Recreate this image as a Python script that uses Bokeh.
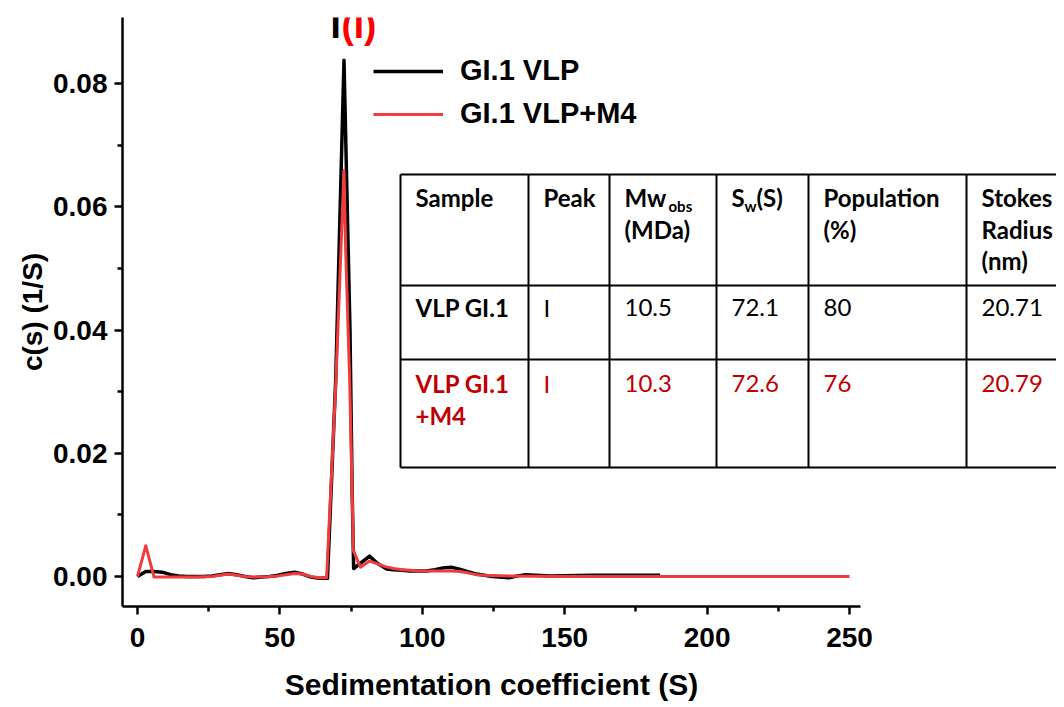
from bokeh.plotting import figure
from bokeh.models import Range1d, FixedTicker, Legend, LegendItem, LinearAxis
from bokeh.embed import file_html
from bokeh.resources import INLINE
from bokeh.core.properties import value

# ---------------- data ----------------
s_vlp = [0, 2.9, 5.8, 8.7, 11.6, 14.5, 17.4, 20.3, 23.2, 26.1, 29.0, 31.9, 34.8,
         37.7, 40.6, 43.5, 46.4, 49.3, 52.2, 55.1, 58.0, 60.9, 63.8, 66.7, 69.6,
         72.5, 74.6, 75.4, 75.9, 81.5, 84.1, 87.5, 89.9, 92.8, 95.7, 98.6, 101.5,
         104.4, 107.3, 110.2, 113.1, 116.0, 118.9, 121.8, 124.7, 130.5, 133.4,
         136.3, 145.0, 160.0, 183.5]
c_vlp = [0.0, 0.0008, 0.0008, 0.0007, 0.0003, 0.0001, 0.0, 0.0, 0.0, 0.0001,
         0.0003, 0.0005, 0.0003, 0.0, -0.0002, -0.0001, 0.0, 0.0002, 0.0005,
         0.0007, 0.0004, -0.0001, -0.0003, -0.0003, 0.0320, 0.0838, 0.0400,
         0.0130, 0.0013, 0.0033, 0.0022, 0.0012, 0.0011, 0.0010, 0.0009, 0.0009,
         0.0009, 0.0011, 0.0014, 0.0015, 0.0012, 0.0008, 0.0004, 0.0002, 0.0,
         -0.0002, 0.0001, 0.0003, 0.0001, 0.0002, 0.0002]

s_m4 = [0, 2.9, 5.8, 8.7, 14.5, 20.3, 26.1, 29.0, 31.9, 34.8, 37.7, 40.6, 46.4,
        49.3, 52.2, 55.1, 58.0, 60.9, 63.8, 66.4, 69.6, 72.5, 73.1, 74.5, 75.4,
        75.8, 78.3, 81.5, 84.1, 87.0, 89.9, 92.8, 95.7, 98.6, 104.4, 110.2,
        113.1, 116.0, 118.9, 121.8, 130.5, 150.0, 250.0]
c_m4 = [0.0, 0.0050, -0.0001, -0.0001, -0.0001, -0.0001, 0.0, 0.0002, 0.0004,
        0.0002, 0.0, -0.0001, 0.0, 0.0001, 0.0003, 0.0005, 0.0004, 0.0, -0.0002,
        -0.0002, 0.0310, 0.0659, 0.0529, 0.0318, 0.0128, 0.0042, 0.0015, 0.0025,
        0.0021, 0.0016, 0.0013, 0.0011, 0.0010, 0.0009, 0.0009, 0.0009, 0.0008,
        0.0006, 0.0003, 0.0002, 0.0001, 0.0, 0.0]

x_ticks = [0, 50, 100, 150, 200, 250]
x_minor = [25, 75, 125, 175, 225]
y_ticks = [0.0, 0.02, 0.04, 0.06, 0.08]
y_minor = [0.01, 0.03, 0.05, 0.07]
y_tick_labels = {0.0: "0.00", 0.02: "0.02", 0.04: "0.04", 0.06: "0.06", 0.08: "0.08"}

series_labels = ["GI.1 VLP", "GI.1 VLP+M4"]
x_title = "Sedimentation coefficient (S)"
y_title = "c(s) (1/S)"
peak_main = "I"
peak_paren = "(I)"

table_header = ["Sample", "Peak", "Mw\n(MDa)", "S", "Population\n(%)", "Stokes\nRadius\n(nm)"]
table_header_sub = {2: "obs", 3: "w"}
table_header_tail = {3: "(S)"}
row_vlp = ["VLP GI.1", "I", "10.5", "72.1", "80", "20.71"]
row_m4 = ["VLP GI.1\n+M4", "I", "10.3", "72.6", "76", "20.79"]

# ---------------- layout constants ----------------
BLACK = "#000000"
RED = "#f03c3c"
DARKRED = "#c00000"
AX_FONT = "Liberation Sans"
TB_FONT = "Lato"

W, H = 1056, 707
FL, FT, FH = 122, 17, 589           # frame position on the canvas
FW = W - FL
X0 = -5.27
X1 = X0 + FW / 2.848
Y0, Y1 = -0.00487, 0.09075
X_AXIS_END = 253.9


def dx(px):
    return X0 + (px - FL) / FW * (X1 - X0)


def dy(py):
    return Y1 - (py - FT) / FH * (Y1 - Y0)


p = figure(width=W, height=H, output_backend="svg", toolbar_location=None,
           x_range=Range1d(X0, X1), y_range=Range1d(Y0, Y1),
           min_border_left=FL, min_border_top=FT,
           min_border_right=0, min_border_bottom=H - FT - FH)
p.outline_line_color = None
p.grid.visible = False
p.background_fill_color = "white"
p.border_fill_color = "white"

# axes
xa = p.xaxis[0]
xa.bounds = (X0, X_AXIS_END)
xa.ticker = FixedTicker(ticks=x_ticks, minor_ticks=x_minor)
ya = p.yaxis[0]
ya.ticker = FixedTicker(ticks=y_ticks, minor_ticks=y_minor)
ya.major_label_overrides = y_tick_labels
ya.axis_label = y_title
for ax in (xa, ya):
    ax.axis_line_width = 2.5
    ax.axis_line_color = BLACK
    ax.major_tick_line_width = 2.5
    ax.minor_tick_line_width = 2.5
    ax.major_tick_in = 0
    ax.major_tick_out = 8
    ax.minor_tick_in = 0
    ax.minor_tick_out = 5
    ax.major_label_text_font = AX_FONT
    ax.major_label_text_font_style = "bold"
    ax.major_label_text_font_size = "28px"
    ax.major_label_text_color = BLACK
    ax.axis_label_text_font = AX_FONT
    ax.axis_label_text_font_style = "bold"
    ax.axis_label_text_font_size = "28px"
    ax.axis_label_text_color = BLACK
xa.major_label_standoff = 13
ya.major_label_standoff = 7
ya.axis_label_standoff = 2

# x title: centred under the drawn 0-250 part of the axis (not under the wide frame),
# drawn as the single label of a second, line-less bottom axis
title_pos = (X0 + X_AXIS_END) / 2
title_axis = LinearAxis(ticker=FixedTicker(ticks=[title_pos], minor_ticks=[]),
                        major_label_overrides={title_pos: x_title},
                        axis_line_color=None, major_tick_line_color=None,
                        minor_tick_line_color=None, major_tick_in=0, major_tick_out=0,
                        minor_tick_in=0, minor_tick_out=0, major_label_standoff=18,
                        major_label_text_font=AX_FONT, major_label_text_font_style="bold",
                        major_label_text_font_size="30px", major_label_text_color=BLACK)
p.add_layout(title_axis, "below")

# curves
r_vlp = p.line(s_vlp, c_vlp, line_color=BLACK, line_width=3.5, line_join="round")
r_m4 = p.line(s_m4, c_m4, line_color=RED, line_width=3, line_join="round")

legend = Legend(items=[LegendItem(label=series_labels[0], renderers=[r_vlp]),
                       LegendItem(label=series_labels[1], renderers=[r_m4])],
                location=(373 - FL, (FT + FH) - 130), orientation="vertical",
                border_line_color=None, background_fill_alpha=0,
                padding=0, margin=0, spacing=10,
                glyph_width=70, glyph_height=30, label_height=30, label_standoff=17,
                label_text_font=AX_FONT, label_text_font_style="bold",
                label_text_font_size="29px", label_text_color=BLACK)
p.add_layout(legend)

# peak label "I(I)"
p.text(x=[dx(330)], y=[dy(25)], text=[peak_main], text_font=value(AX_FONT),
       text_font_style="bold", text_font_size="37px", text_color=BLACK,
       text_align="left", text_baseline="middle")
p.text(x=[dx(341)], y=[dy(25)], text=[peak_paren], text_font=value(AX_FONT),
       text_font_style="bold", text_font_size="37px", text_color="#ff0000",
       text_align="left", text_baseline="middle")

# table
col_px = [400, 528, 609, 716, 808, 966]
row_px = [174, 285, 359, 467]
tx0, ty0, tx1, ty1 = [], [], [], []
for c in col_px:
    tx0.append(dx(c)); tx1.append(dx(c)); ty0.append(dy(row_px[0])); ty1.append(dy(row_px[-1]))
for r in row_px:
    tx0.append(dx(col_px[0])); tx1.append(dx(1100)); ty0.append(dy(r)); ty1.append(dy(r))
p.segment(tx0, ty0, tx1, ty1, line_color=BLACK, line_width=2)

LINE_GAP = 31.5
FS = "24px"


def cell(text, col, center_py, color, bold):
    for i, line in enumerate(text.split("\n")):
        p.text(x=[dx(col_px[col] + 15)], y=[dy(center_py + i * LINE_GAP)], text=[line],
               text_font=value(TB_FONT), text_font_style="bold" if bold else "normal",
               text_font_size=FS, text_color=color, text_align="left",
               text_baseline="middle")


for i, t in enumerate(table_header):
    cell(t, i, 197, BLACK, True)
sub_off = {2: 44, 3: 13}
tail_off = {3: 25}
for i, t in table_header_sub.items():
    p.text(x=[dx(col_px[i] + 15 + sub_off[i])], y=[dy(205)], text=[t],
           text_font=value(TB_FONT), text_font_style="bold", text_font_size="15px",
           text_color=BLACK, text_align="left", text_baseline="middle")
for i, t in table_header_tail.items():
    p.text(x=[dx(col_px[i] + 15 + tail_off[i])], y=[dy(197)], text=[t],
           text_font=value(TB_FONT), text_font_style="bold", text_font_size=FS,
           text_color=BLACK, text_align="left", text_baseline="middle")
for i, t in enumerate(row_vlp):
    cell(t, i, 307, BLACK, i == 0)
for i, t in enumerate(row_m4):
    cell(t, i, 383, DARKRED, i == 0)

open("out.html", "w").write(file_html(p, INLINE))
